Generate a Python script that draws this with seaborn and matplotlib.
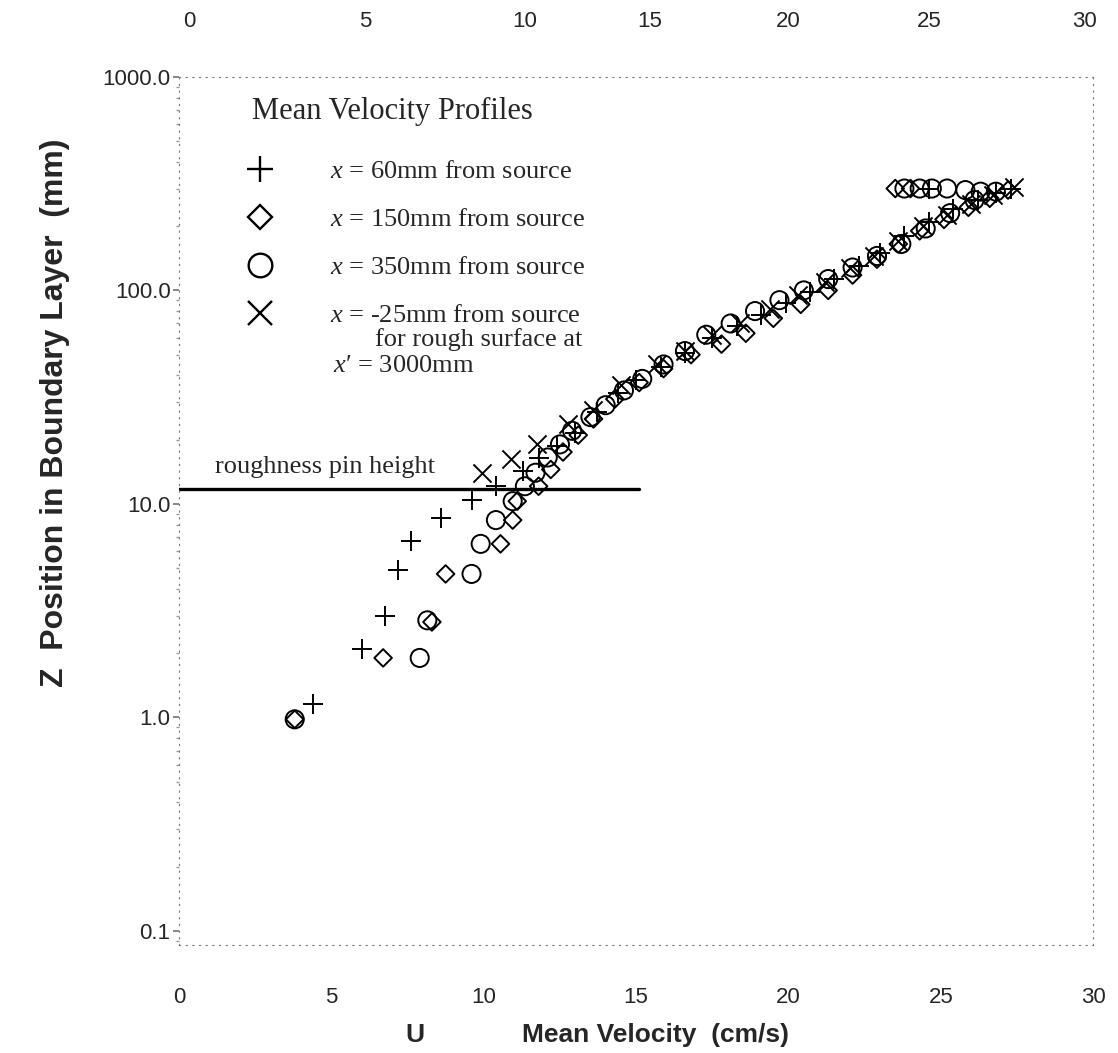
import numpy as np
import pandas as pd
import matplotlib
matplotlib.use("Agg")
import matplotlib.pyplot as plt
import seaborn as sns
from matplotlib.lines import Line2D

# ---------------- data ----------------
u_60 = [4.4, 6.0, 6.75, 7.2, 7.6, 8.6, 9.6, 10.4, 11.3, 11.8, 12.4, 13.0, 13.7, 14.4, 15.0,
        15.8, 16.6, 17.5, 18.3, 19.1, 19.9, 20.7, 21.5, 22.3, 23.0, 23.8, 24.6, 25.4, 26.2,
        26.8, 27.3, 24.6]
z_60 = [1.15, 2.1, 3.0, 4.9, 6.7, 8.6, 10.4, 12.1, 14.2, 16.4, 18.7, 21.5, 27, 33, 38,
        44, 51, 60, 68, 77, 87, 98, 113, 130, 150, 180, 210, 240, 265,
        285, 300, 300]

u_150 = [3.8, 6.7, 8.3, 8.75, 10.55, 10.95, 11.1, 11.8, 12.2, 12.6, 13.1, 13.6, 14.3, 15.1,
         15.9, 16.8, 17.8, 18.6, 19.5, 20.4, 21.3, 22.1, 22.9, 23.6, 24.3, 25.1, 25.9, 26.6,
         27.2, 23.5, 24.0]
z_150 = [0.98, 1.9, 2.8, 4.7, 6.5, 8.4, 10.3, 12.1, 14.5, 17.5, 21, 25, 31, 37,
         43, 50, 56, 63, 74, 86, 100, 118, 140, 165, 190, 215, 245, 270,
         295, 300, 300]

u_350 = [3.8, 7.9, 8.15, 9.6, 9.9, 10.4, 10.95, 11.35, 11.7, 12.1, 12.5, 12.9, 13.5, 14.0,
         14.6, 15.2, 15.9, 16.6, 17.3, 18.1, 18.9, 19.7, 20.5, 21.3, 22.1, 22.9, 23.7, 24.5,
         25.3, 26.1, 26.8, 23.8, 24.3, 24.7, 25.2, 25.8, 26.3]
z_350 = [0.98, 1.9, 2.85, 4.7, 6.5, 8.4, 10.3, 12.1, 14, 16.5, 19, 22, 25.5, 29,
         34, 38.5, 45, 52, 62, 70, 80, 90, 100, 113, 128, 145, 165, 195,
         230, 265, 290, 300, 300, 300, 300, 295, 290]

u_m25 = [9.95, 10.9, 11.75, 12.75, 13.6, 14.5, 15.7, 16.6, 17.5, 18.4, 19.4, 20.3, 21.2,
         22.0, 22.8, 23.6, 24.4, 25.2, 26.0, 26.7, 27.4]
z_m25 = [13.9, 16.2, 19.1, 23.6, 27.5, 36, 45, 52, 62, 70, 82, 95, 110,
         128, 145, 170, 200, 225, 255, 280, 305]

series_labels = ["x = 60mm from source", "x = 150mm from source",
                 "x = 350mm from source", "x = -25mm from source"]
bottom_ticks = [0, 5, 10, 15, 20, 25, 30]
top_tick_pos = [0.35, 6.1, 11.35, 15.45, 20.0, 24.6, 29.7]
top_tick_labels = ["0", "5", "10", "15", "20", "25", "30"]
y_ticks = [0.1, 1, 10, 100, 1000]
y_tick_labels = ["0.1", "1.0", "10.0", "100.0", "1000.0"]
pin_height = 11.7
pin_u = [0, 15.1]

df = pd.concat([
    pd.DataFrame({"U": u_60, "Z": z_60, "series": series_labels[0]}),
    pd.DataFrame({"U": u_150, "Z": z_150, "series": series_labels[1]}),
    pd.DataFrame({"U": u_350, "Z": z_350, "series": series_labels[2]}),
    pd.DataFrame({"U": u_m25, "Z": z_m25, "series": series_labels[3]}),
], ignore_index=True)

# ---------------- style ----------------
sns.set_theme(style="white")
plt.rcParams["font.family"] = ["Liberation Sans", "DejaVu Sans"]
plt.rcParams["mathtext.fontset"] = "custom"
plt.rcParams["mathtext.rm"] = "Liberation Serif"
plt.rcParams["mathtext.it"] = "Liberation Serif:italic"

fig = plt.figure(figsize=(11.18, 10.53), dpi=100)
ax = fig.add_axes([0.160, 0.1026, 0.818, 0.8244])

marker_kw = {
    series_labels[0]: dict(marker="+", s=190, color="black", linewidths=1.4),
    series_labels[1]: dict(marker="D", s=80, facecolor="none", edgecolor="black", linewidth=1.4),
    series_labels[2]: dict(marker="o", s=170, facecolor="none", edgecolor="black", linewidth=1.4),
    series_labels[3]: dict(marker="x", s=170, color="black", linewidths=1.4),
}
for lab in series_labels:
    sub = df[df["series"] == lab]
    sns.scatterplot(data=sub, x="U", y="Z", ax=ax, legend=False, **marker_kw[lab])

# roughness pin height line
sns.lineplot(x=pin_u, y=[pin_height, pin_height], ax=ax, color="black", linewidth=2.4)
ax.text(1.2, 14.9, "roughness pin height", family="Liberation Serif", fontsize=19,
        ha="left", va="center")

ax.set_yscale("log")
ax.set_xlim(0, 30)
ax.set_ylim(0.086, 1000)
ax.set_xticks(bottom_ticks)
ax.set_xticklabels([str(t) for t in bottom_ticks])
ax.set_yticks(y_ticks)
ax.set_yticklabels(y_tick_labels)
ax.tick_params(axis="x", which="both", length=0, pad=30, labelsize=16)
ax.tick_params(axis="y", which="major", length=4, color="#777777", pad=2, labelsize=16, left=True)
ax.tick_params(axis="y", which="minor", length=2, color="#999999", left=True)
ax.set_xlabel("")
ax.set_ylabel("")

for sp in ax.spines.values():
    sp.set_linestyle((0, (1, 5)))
    sp.set_color("#777777")
    sp.set_linewidth(0.8)

secax = ax.secondary_xaxis("top")
secax.set_xticks(top_tick_pos)
secax.set_xticklabels(top_tick_labels)
secax.tick_params(length=0, pad=32, labelsize=16)
secax.spines["top"].set_visible(False)

# axis titles
fig.text(415 / 1118, 1 - 1035 / 1053, "U", fontsize=19, fontweight="bold", ha="center", va="center")
fig.text(655 / 1118, 1 - 1035 / 1053, "Mean Velocity  (cm/s)", fontsize=19, fontweight="bold",
         ha="center", va="center")
fig.text(55 / 1118, 1 - 413 / 1053, "Z  Position in Boundary Layer  (mm)", fontsize=23,
         fontweight="bold", rotation=90, ha="center", va="center")

# legend
handles = [
    Line2D([], [], marker="+", color="black", linestyle="none", markersize=19, markeredgewidth=1.7),
    Line2D([], [], marker="D", color="black", markerfacecolor="none", linestyle="none",
           markersize=12, markeredgewidth=1.7),
    Line2D([], [], marker="o", color="black", markerfacecolor="none", linestyle="none",
           markersize=17, markeredgewidth=1.7),
    Line2D([], [], marker="x", color="black", linestyle="none", markersize=17, markeredgewidth=1.7),
]
leg_labels = [r"$x$ = 60mm from source", r"$x$ = 150mm from source",
              r"$x$ = 350mm from source", r"$x$ = -25mm from source"]
leg = ax.legend(handles, leg_labels, loc="upper left",
                bbox_to_anchor=(252 / 1118, 1 - 97 / 1053), bbox_transform=fig.transFigure,
                frameon=False, prop={"family": "Liberation Serif", "size": 19},
                title="Mean Velocity Profiles",
                title_fontproperties={"family": "Liberation Serif", "size": 22},
                alignment="left", handlelength=0.6, handletextpad=2.35,
                labelspacing=0.93, borderpad=0, borderaxespad=0)
leg._legend_box.sep = 24
fig.text(375 / 1118, 1 - 340 / 1053, "for rough surface at", family="Liberation Serif",
         fontsize=19, ha="left", va="center")
fig.text(333 / 1118, 1 - 366 / 1053, r"$x$′ = 3000mm", family="Liberation Serif",
         fontsize=19, ha="left", va="center")

fig.savefig("out.png", dpi=100, facecolor="white")
